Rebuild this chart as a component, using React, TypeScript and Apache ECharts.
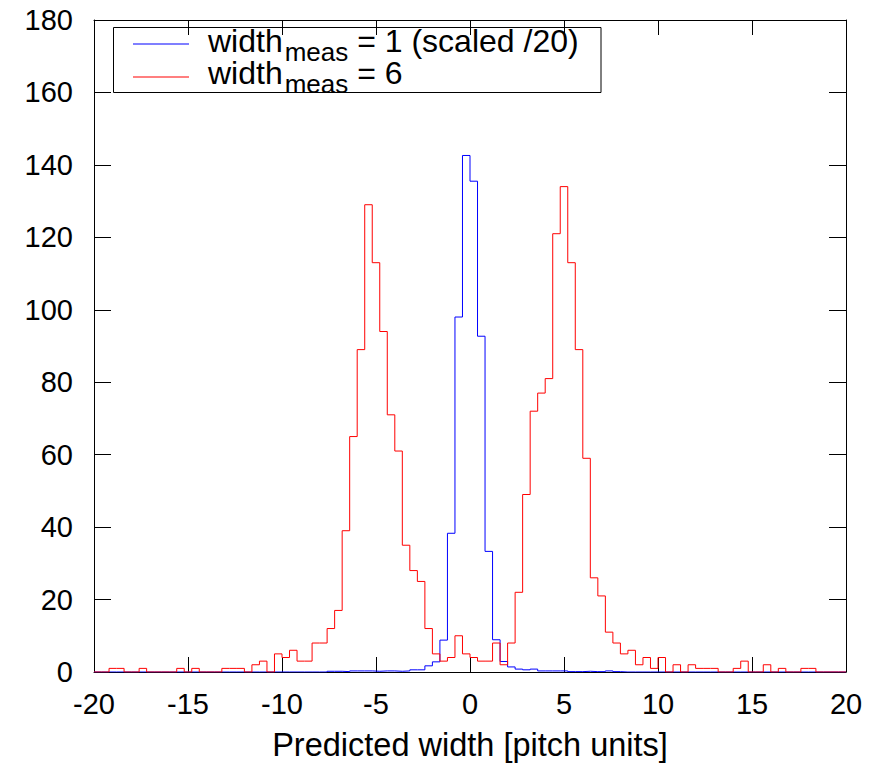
import React, { useEffect, useRef } from "react";
import * as echarts from "echarts";

// Histogram: 100 bins of width 0.4 from -20 to 20
const binStart = -20;
const binWidth = 0.4;

// width_meas = 6 (red)
const redCounts = [
  0, 0, 1, 1, 0, 0, 1, 0, 0, 0,
  0, 1, 0, 1, 0, 0, 0, 1, 1, 1,
  0, 2, 3, 0, 5, 4, 6, 3, 3, 8,
  8, 12, 17, 39, 65, 89, 129, 113, 94, 71,
  61, 35, 28, 25, 12, 5, 3, 4, 10, 5,
  4, 3, 3, 8, 2, 8, 22, 49, 72, 77,
  81, 121, 134, 113, 89, 59, 26, 21, 11, 8,
  5, 6, 2, 4, 1, 4, 0, 2, 0, 2,
  1, 1, 1, 0, 0, 1, 3, 0, 0, 2,
  0, 1, 0, 0, 1, 1, 0, 0, 0, 0,
];

// width_meas = 1, scaled /20 (blue)
const blueCounts = [
  0, 0, 0, 0, 0, 0, 0, 0, 0, 0,
  0, 0, 0, 0, 0, 0, 0, 0, 0, 0,
  0, 0, 0, 0, 0, 0, 0, 0, 0, 0,
  0, 0.2, 0.2, 0.1, 0.3, 0.3, 0.3, 0.2, 0.3, 0.3,
  0.2, 0.3, 0.6, 0.6, 1.7, 2.8, 8.8, 38.3, 98, 142.6,
  135.5, 92.7, 33.3, 8.9, 2.9, 1.4, 0.8, 0.6, 0.8, 0.3,
  0.3, 0.3, 0.3, 0.1, 0.1, 0.2, 0.1, 0.1, 0.3, 0.1,
  0, 0, 0, 0, 0, 0, 0, 0, 0, 0,
  0, 0, 0, 0, 0, 0, 0, 0, 0, 0,
  0, 0, 0, 0, 0, 0, 0, 0, 0, 0,
];

const xMin = -20;
const xMax = 20;
const xInterval = 5;
const yMin = 0;
const yMax = 180;
const yInterval = 20;

const xTitle = "Predicted width [pitch units]";
const legendBase = "width";
const legendSub = "meas";
const legendTail1 = " = 1 (scaled /20)";
const legendTail2 = " = 6";

const FONT = '"Liberation Sans", Arial, Helvetica, sans-serif';

function toStep(counts: number[]): number[][] {
  const pts = counts.map((v, k) => [binStart + binWidth * k, v]);
  pts.push([binStart + binWidth * counts.length, counts[counts.length - 1]]);
  return pts;
}

export default function App() {
  const ref = useRef<HTMLDivElement>(null);
  useEffect(() => {
    if (!ref.current) return;
    const chart = echarts.init(ref.current, null, { renderer: "svg" });
    const axisCommon = {
      type: "value" as const,
      axisLine: { show: true, onZero: false, lineStyle: { color: "#000", width: 1 } },
      splitLine: { show: false },
    };
    const legendFont = 32;
    const subFont = 26;
    const rich = {
      b: { fontSize: legendFont, lineHeight: 32, fontFamily: FONT, fill: "#000", color: "#000", verticalAlign: "top" },
      s: { fontSize: subFont, lineHeight: 26, fontFamily: FONT, fill: "#000", color: "#000", verticalAlign: "top", padding: [14, 0, 0, 2] },
    };
    const legendRow = (tail: string, y: number) => ({
      type: "text",
      x: 208,
      y,
      z: 100,
      style: {
        text: `{b|${legendBase}}{s|${legendSub}}{b|${tail}}`,
        rich,
        fill: "#000",
        fontSize: legendFont,
        fontFamily: FONT,
        verticalAlign: "top",
      },
    });
    chart.setOption({
      animation: false,
      backgroundColor: "#fff",
      grid: { left: 94, top: 20, width: 752, height: 652, containLabel: false },
      xAxis: [
        {
          ...axisCommon,
          position: "bottom",
          min: xMin,
          max: xMax,
          interval: xInterval,
          axisTick: { show: true, inside: true, length: 15, lineStyle: { color: "#000" } },
          axisLabel: { color: "#000", fontSize: 29, fontFamily: FONT, margin: 17 },
          name: xTitle,
          nameLocation: "middle",
          nameGap: 56,
          nameTextStyle: { color: "#000", fontSize: 32.5, fontFamily: FONT },
        },
        {
          ...axisCommon,
          position: "top",
          min: xMin,
          max: xMax,
          interval: xInterval,
          axisTick: { show: true, inside: true, length: 15, lineStyle: { color: "#000" } },
          axisLabel: { show: false },
        },
      ],
      yAxis: [
        {
          ...axisCommon,
          position: "left",
          min: yMin,
          max: yMax,
          interval: yInterval,
          axisTick: { show: true, inside: true, length: 17, lineStyle: { color: "#000" } },
          axisLabel: { color: "#000", fontSize: 29, fontFamily: FONT, margin: 21 },
        },
        {
          ...axisCommon,
          position: "right",
          min: yMin,
          max: yMax,
          interval: yInterval,
          axisTick: { show: true, inside: true, length: 17, lineStyle: { color: "#000" } },
          axisLabel: { show: false },
        },
      ],
      series: [
        {
          name: "width_meas = 1 (scaled /20)",
          type: "line",
          step: "end",
          data: toStep(blueCounts),
          showSymbol: false,
          symbol: "none",
          lineStyle: { color: "#0000ff", width: 1 },
          itemStyle: { color: "#0000ff" },
        },
        {
          name: "width_meas = 6",
          type: "line",
          step: "end",
          data: toStep(redCounts),
          showSymbol: false,
          symbol: "none",
          lineStyle: { color: "#ff0000", width: 1 },
          itemStyle: { color: "#ff0000" },
        },
      ],
      graphic: [
        {
          type: "rect",
          shape: { x: 113.5, y: 27.5, width: 487.5, height: 65 },
          style: { fill: "none", stroke: "#000", lineWidth: 1 },
          z: 100,
        },
        {
          type: "line",
          shape: { x1: 133, y1: 44, x2: 189, y2: 44 },
          style: { stroke: "#0000ff", lineWidth: 1.2 },
          z: 100,
        },
        {
          type: "line",
          shape: { x1: 133, y1: 77, x2: 189, y2: 77 },
          style: { stroke: "#ff0000", lineWidth: 1.2 },
          z: 100,
        },
        legendRow(legendTail1, 24.5),
        legendRow(legendTail2, 56.5),
      ],
    });
    return () => chart.dispose();
  }, []);
  return (
    <div
      ref={ref}
      style={{ position: "fixed", left: 0, top: 0, width: 886, height: 771, background: "#fff" }}
    />
  );
}
